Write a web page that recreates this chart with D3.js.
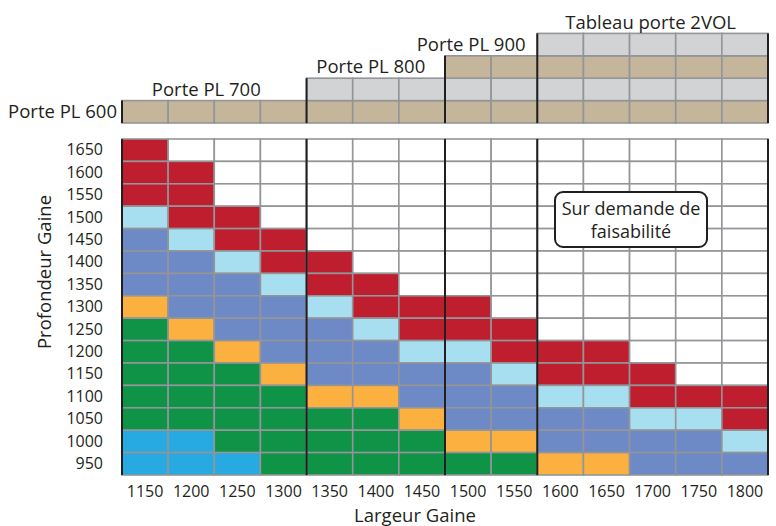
<!DOCTYPE html>
<html>
<head>
<meta charset="utf-8">
<script src="https://cdn.jsdelivr.net/npm/d3@7"></script>
<style>
body { margin: 0; background: #fff; }
text { font-family: "Open Sans", sans-serif; fill: #231f20; }
</style>
</head>
<body>
<svg id="chart" width="776" height="526"></svg>
<script>
// largeurs (colonnes) et profondeurs (lignes, du haut vers le bas)
var largeurs = [1150, 1200, 1250, 1300, 1350, 1400, 1450, 1500, 1550, 1600, 1650, 1700, 1750, 1800];
var profondeurs = [1650, 1600, 1550, 1500, 1450, 1400, 1350, 1300, 1250, 1200, 1150, 1100, 1050, 1000, 950];

// R rouge, L bleu clair, B bleu, O orange, G vert, C cyan, W blanc
var rows = [
  "RWWWWWWWWWWWWW",
  "RRWWWWWWWWWWWW",
  "RRWWWWWWWWWWWW",
  "LRRWWWWWWWWWWW",
  "BLRRWWWWWWWWWW",
  "BBLRRWWWWWWWWW",
  "BBBLRRWWWWWWWW",
  "OBBBLRRRWWWWWW",
  "GOBBBLRRRWWWWW",
  "GGOBBBLLRRRWWW",
  "GGGOBBBBLRRRWW",
  "GGGGOOBBBLLRRR",
  "GGGGGGOBBBBLLR",
  "CCGGGGGOOBBBBL",
  "CCCGGGGGGOOBBB"
];

var colors = {R: "#be1e2d", L: "#a7dff0", B: "#6d8ac6", O: "#fbb040", G: "#0e9347", C: "#27aae1", W: "#ffffff"};

// groupes de portes : premiere/derniere colonne, nombre de bandeaux
var portes = [
  {label: "Porte PL 700", from: 1150, to: 1300, levels: 1, dx: -8},
  {label: "Porte PL 800", from: 1350, to: 1450, levels: 2, dx: -5},
  {label: "Porte PL 900", from: 1500, to: 1550, levels: 3, dx: -20},
  {label: "Tableau porte 2VOL", from: 1600, to: 1800, levels: 4, dx: -2}
];
var bandeauColors = ["#c5b59b", "#d1d3d4"];

var LEFT = 122, RIGHT = 768, TOP = 139, BOTTOM = 475, HEAD_BOTTOM = 123;
var GRID_COLOR = "#939598";
var LABEL_SIZE = "18.5px", TICK_SIZE = "16px";

var svg = d3.select("#chart");

var x = d3.scaleBand().domain(largeurs).range([LEFT, RIGHT]);
var y = d3.scaleBand().domain(profondeurs).range([TOP, BOTTOM]);
var rh = y.bandwidth();

var cells = [];
rows.forEach(function(r, i) {
  r.split("").forEach(function(c, j) {
    cells.push({larg: largeurs[j], prof: profondeurs[i], code: c});
  });
});

svg.append("g").selectAll("rect")
  .data(cells)
  .join("rect")
  .attr("x", function(d) { return x(d.larg); })
  .attr("y", function(d) { return y(d.prof); })
  .attr("width", x.bandwidth())
  .attr("height", rh)
  .style("fill", function(d) { return colors[d.code]; })
  .style("stroke", GRID_COLOR)
  .style("stroke-width", 1.6);

// bandeaux du haut : chaque niveau couvre le groupe et les suivants
var headCells = [];
var seen = {};
portes.forEach(function(p) {
  var cols = largeurs.filter(function(l) { return l >= p.from; });
  for (var k = 0; k < p.levels; k++) {
    cols.forEach(function(l) {
      var key = l + "_" + k;
      if (!seen[key]) {
        seen[key] = true;
        headCells.push({larg: l, level: k});
      }
    });
  }
});

svg.append("g").selectAll("rect")
  .data(headCells)
  .join("rect")
  .attr("x", function(d) { return x(d.larg); })
  .attr("y", function(d) { return HEAD_BOTTOM - (d.level + 1) * rh; })
  .attr("width", x.bandwidth())
  .attr("height", rh)
  .style("fill", function(d) { return bandeauColors[d.level % 2]; })
  .style("stroke", GRID_COLOR)
  .style("stroke-width", 1.6);

// traits noirs de separation
var sep = svg.append("g").style("stroke", "#231f20").style("stroke-width", 2);
portes.forEach(function(p) {
  var xx = x(p.from);
  sep.append("line").attr("x1", xx).attr("x2", xx)
    .attr("y1", HEAD_BOTTOM - p.levels * rh).attr("y2", HEAD_BOTTOM);
  sep.append("line").attr("x1", xx).attr("x2", xx)
    .attr("y1", TOP).attr("y2", BOTTOM);
});
var maxLevels = d3.max(portes, function(p) { return p.levels; });
sep.append("line").attr("x1", RIGHT).attr("x2", RIGHT)
  .attr("y1", HEAD_BOTTOM - maxLevels * rh).attr("y2", HEAD_BOTTOM);
sep.append("line").attr("x1", RIGHT).attr("x2", RIGHT)
  .attr("y1", TOP).attr("y2", BOTTOM);

// libelles des portes
portes.forEach(function(p) {
  var cx = (x(p.from) + x(p.to) + x.bandwidth()) / 2 + p.dx;
  svg.append("text")
    .attr("x", cx)
    .attr("y", HEAD_BOTTOM - (p.levels + 0.5) * rh)
    .attr("dy", "0.35em")
    .attr("text-anchor", "middle")
    .style("font-size", LABEL_SIZE)
    .text(p.label);
});
svg.append("text")
  .attr("x", LEFT - 5)
  .attr("y", HEAD_BOTTOM - 0.5 * rh)
  .attr("dy", "0.35em")
  .attr("text-anchor", "end")
  .style("font-size", LABEL_SIZE)
  .text("Porte PL 600");

// axes
var xAxis = svg.append("g")
  .attr("transform", "translate(0," + BOTTOM + ")")
  .call(d3.axisBottom(x).tickSize(0).tickPadding(11));
var yAxis = svg.append("g")
  .attr("transform", "translate(" + LEFT + ",0)")
  .call(d3.axisLeft(y).tickSize(0).tickPadding(19));
[xAxis, yAxis].forEach(function(a) {
  a.select(".domain").remove();
  a.selectAll("text").style("font-size", TICK_SIZE).style("font-family", "'Open Sans', sans-serif").attr("fill", "#231f20");
});

svg.append("text")
  .attr("x", 415)
  .attr("y", 522)
  .attr("text-anchor", "middle")
  .style("font-size", LABEL_SIZE)
  .text("Largeur Gaine");

svg.append("text")
  .attr("transform", "translate(51,272) rotate(-90)")
  .attr("text-anchor", "middle")
  .style("font-size", LABEL_SIZE)
  .text("Profondeur Gaine");

// encadre
var note = svg.append("g");
note.append("rect")
  .attr("x", 555).attr("y", 192)
  .attr("width", 152).attr("height", 55)
  .attr("rx", 8)
  .style("fill", "#fff")
  .style("stroke", "#231f20")
  .style("stroke-width", 2);
note.append("text")
  .attr("x", 631).attr("y", 215)
  .attr("text-anchor", "middle")
  .style("font-size", "18px")
  .text("Sur demande de");
note.append("text")
  .attr("x", 631).attr("y", 238)
  .attr("text-anchor", "middle")
  .style("font-size", "18px")
  .text("faisabilité");
</script>
</body>
</html>
